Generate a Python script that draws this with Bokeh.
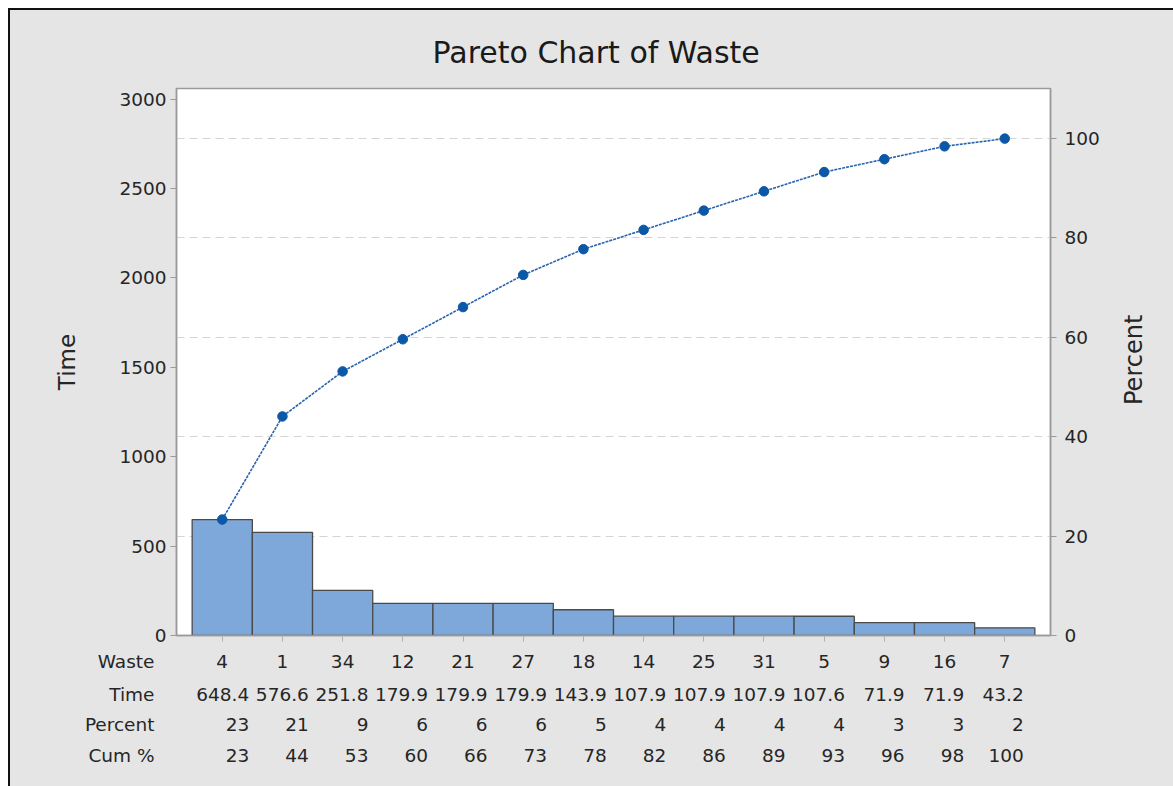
import math
import numpy as np
from bokeh.plotting import figure
from bokeh.layouts import column
from bokeh.models import (Range1d, LinearAxis, FixedTicker, ColumnDataSource, Grid)
from bokeh.core.properties import value
from bokeh.embed import file_html
from bokeh.resources import INLINE

# ---- data ----
waste = ["4", "1", "34", "12", "21", "27", "18", "14", "25", "31", "5", "9", "16", "7"]
time_vals = [648.4, 576.6, 251.8, 179.9, 179.9, 179.9, 143.9, 107.9, 107.9, 107.9, 107.6, 71.9, 71.9, 43.2]
percent = [23, 21, 9, 6, 6, 6, 5, 4, 4, 4, 4, 3, 3, 2]
cum_pct = [23, 44, 53, 60, 66, 73, 78, 82, 86, 89, 93, 96, 98, 100]
time_ticks = [0, 500, 1000, 1500, 2000, 2500, 3000]
pct_ticks = [0, 20, 40, 60, 80, 100]
row_names = ["Waste", "Time", "Percent", "Cum %"]

FONT = "DejaVu Sans"
TXT = "#262626"
BG = "#e5e5e5"
AXC = "#9a9a9a"

n = len(waste)
xs = np.arange(n)
total = float(np.sum(time_vals))
cum_line = np.cumsum(time_vals) / total * 100.0

# ---- layout constants (pixels) ----
W = 1163
H_TOP = 640
H_BOT = 136
F_LEFT, F_RIGHT, F_TOP, F_BOTTOM = 166, 1040, 78, 625

YMAX = 3059.0
PMAX = YMAX / total * 100.0
XMIN, XMAX = -0.76, n - 1 + 0.76
ppu = (F_RIGHT - F_LEFT) / (XMAX - XMIN)

p = figure(width=W, height=H_TOP, output_backend="svg", toolbar_location=None,
           x_range=Range1d(XMIN, XMAX), y_range=Range1d(0, YMAX),
           min_border_left=F_LEFT, min_border_right=W - F_RIGHT, min_border_top=F_TOP,
           min_border_bottom=H_TOP - F_BOTTOM,
           background_fill_color="white", border_fill_color=BG,
           outline_line_color=AXC, outline_line_width=1.5,
           title="Pareto Chart of Waste")
p.extra_y_ranges = {"pct": Range1d(0, PMAX)}

p.title.text_font = FONT
p.title.text_font_size = "30px"
p.title.text_font_style = "normal"
p.title.text_color = "#1a1a1a"
p.title.align = "left"
p.title.offset = 256
p.title.standoff = 38

p.grid.visible = False
g = Grid(dimension=1, ticker=FixedTicker(ticks=pct_ticks[1:]), y_range_name="pct",
         grid_line_color="#d4d4d4", grid_line_dash="8 5", grid_line_width=1.2)
p.add_layout(g)

# bars
src = ColumnDataSource(dict(x=xs, top=time_vals))
p.vbar(x="x", top="top", width=1.0, source=src, fill_color="#7ea8da",
       line_color="#4a4a4a", line_width=1.3)

# cumulative line
lsrc = ColumnDataSource(dict(x=xs, y=cum_line))
p.line(x="x", y="y", source=lsrc, y_range_name="pct", line_color="#2a64b0",
       line_width=1.6, line_dash="3 1")
p.scatter(x="x", y="y", source=lsrc, y_range_name="pct", size=9.5,
          fill_color="#0b57a8", line_color="#0b57a8")

def style_axis(ax):
    ax.axis_line_color = AXC
    ax.axis_line_width = 1.5
    ax.major_tick_line_color = AXC
    ax.major_tick_out = 6
    ax.major_tick_in = 0
    ax.minor_tick_line_color = None
    ax.major_label_text_font = FONT
    ax.major_label_text_font_size = "18.5px"
    ax.major_label_text_color = TXT
    ax.axis_label_text_font = FONT
    ax.axis_label_text_font_size = "23px"
    ax.axis_label_text_font_style = "normal"
    ax.axis_label_text_color = TXT

ly = p.yaxis[0]
ly.ticker = FixedTicker(ticks=time_ticks)
ly.axis_label = "Time"
style_axis(ly)
ly.major_label_standoff = 4
ly.axis_label_standoff = 36

ry = LinearAxis(y_range_name="pct", ticker=FixedTicker(ticks=pct_ticks))
style_axis(ry)
ry.major_label_standoff = 8
p.add_layout(ry, "right")

# "Percent" title of the right axis, read bottom-to-top and centred on the frame
frame_cy = (F_TOP + F_BOTTOM) / 2.0 - 1
half_len = 44
start_px = frame_cy + half_len
start_pct = (F_BOTTOM - start_px) / (F_BOTTOM - F_TOP) * PMAX
ry2 = LinearAxis(y_range_name="pct", ticker=FixedTicker(ticks=[start_pct]))
style_axis(ry2)
ry2.axis_line_color = None
ry2.major_tick_line_color = None
ry2.major_tick_out = 0
ry2.major_label_overrides = {start_pct: "Percent"}
ry2.major_label_text_font_size = "24px"
ry2.major_label_orientation = math.pi / 2
ry2.major_label_standoff = 31
p.add_layout(ry2, "right")

bx = p.xaxis[0]
bx.ticker = FixedTicker(ticks=list(xs))
style_axis(bx)
bx.major_label_text_font_size = "0px"
bx.major_label_text_color = None
bx.major_label_standoff = 0
bx.major_tick_line_color = "#b0b0b0"

# ---- table figure below, sharing the x scale of the bars ----
row_y = [11, 44, 74, 105]
t = figure(width=W, height=H_BOT, output_backend="svg", toolbar_location=None,
           x_range=p.x_range, y_range=Range1d(H_BOT, 0),
           x_axis_location=None,
           min_border_left=F_LEFT, min_border_right=W - F_RIGHT, min_border_top=0,
           min_border_bottom=0,
           background_fill_color=BG, border_fill_color=BG, outline_line_color=None)
t.grid.visible = False
ty = t.yaxis[0]
ty.ticker = FixedTicker(ticks=row_y)
ty.major_label_overrides = {yv: name for yv, name in zip(row_y, row_names)}
ty.axis_line_color = None
ty.major_tick_line_color = None
ty.minor_tick_line_color = None
ty.major_label_standoff = 16
ty.major_label_text_font = FONT
ty.major_label_text_font_size = "18.5px"
ty.major_label_text_color = TXT

# table columns are slightly narrower than the bars
col_shift = (27.0 - 8.0 * xs / (n - 1)) / ppu
tsrc = ColumnDataSource(dict(
    xc=xs, xr=xs + col_shift,
    waste=waste, time=[f"{v:g}" for v in time_vals],
    pct=[str(v) for v in percent], cum=[str(v) for v in cum_pct]))

common = dict(source=tsrc, text_font=value(FONT), text_font_size="18.5px",
              text_color=TXT, text_baseline="middle")
t.text(x="xc", y=row_y[0], text="waste", text_align="center", **common)
t.text(x="xr", y=row_y[1], text="time", text_align="right", **common)
t.text(x="xr", y=row_y[2], text="pct", text_align="right", **common)
t.text(x="xr", y=row_y[3], text="cum", text_align="right", **common)

layout = column(p, t, spacing=0,
                styles={"margin-left": "8px", "margin-top": "8px",
                        "background-color": BG,
                        "border-left": "2px solid #111", "border-top": "2px solid #111"})

open("out.html", "w").write(file_html(layout, INLINE))
